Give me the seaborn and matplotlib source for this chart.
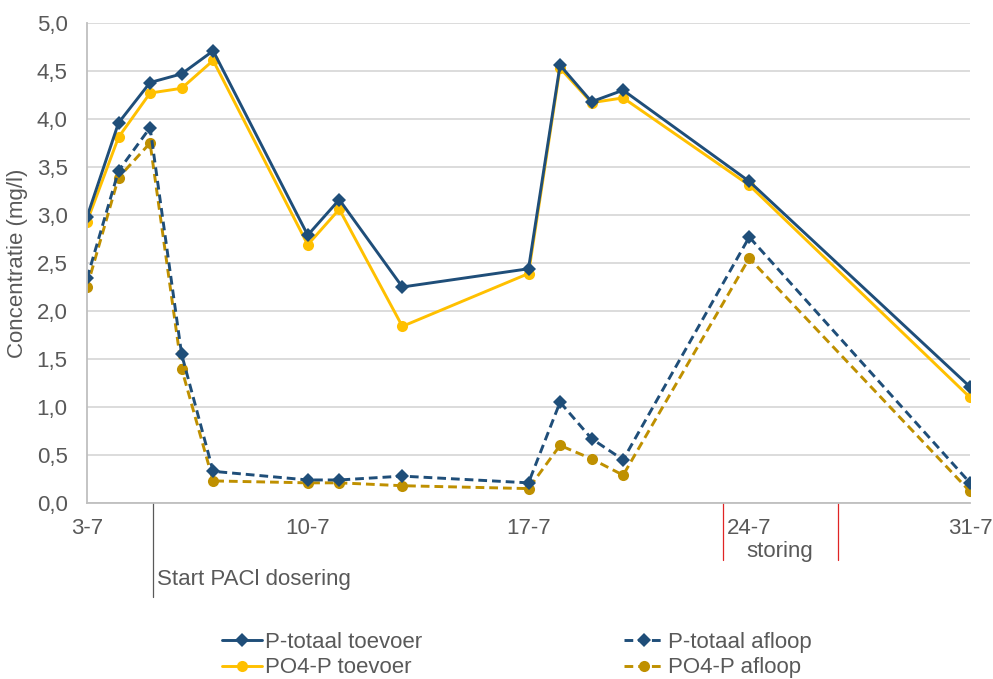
import numpy as np
import pandas as pd
import matplotlib
matplotlib.use("Agg")
import matplotlib.pyplot as plt
import matplotlib.transforms as mtransforms
import seaborn as sns

# dagen in juli
dagen = [3, 4, 5, 6, 7, 10, 11, 13, 17, 18, 19, 20, 24, 31]

ptot_toevoer = [2.98, 3.96, 4.38, 4.47, 4.71, 2.79, 3.16, 2.25, 2.44, 4.56, 4.18, 4.30, 3.35, 1.21]
po4_toevoer = [2.93, 3.81, 4.27, 4.32, 4.61, 2.69, 3.06, 1.84, 2.39, 4.53, 4.17, 4.22, 3.31, 1.10]
ptot_afloop = [2.34, 3.46, 3.91, 1.55, 0.33, 0.24, 0.24, 0.28, 0.21, 1.05, 0.67, 0.45, 2.77, 0.21]
po4_afloop = [2.25, 3.39, 3.75, 1.40, 0.23, 0.21, 0.21, 0.18, 0.15, 0.60, 0.46, 0.29, 2.55, 0.12]

tick_dagen = [3, 10, 17, 24, 31]
tick_labels = ["3-7", "10-7", "17-7", "24-7", "31-7"]

start_pacl = 5.1
storing_van, storing_tot = 23.16, 26.8

df = pd.DataFrame({
    "dag": dagen,
    "P-totaal toevoer": ptot_toevoer,
    "P-totaal afloop": ptot_afloop,
    "PO4-P toevoer": po4_toevoer,
    "PO4-P afloop": po4_afloop,
})

sns.set_style("white")
plt.rcParams["font.family"] = ["Liberation Sans", "DejaVu Sans"]
grijs = "#595959"
fs = 16

fig = plt.figure(figsize=(9.93, 6.79), dpi=100)
ax = fig.add_axes([87 / 993, 1 - 503 / 679, (970 - 87) / 993, 480 / 679])

blauw = "#1F4E79"
geel = "#FFC000"
goud = "#BF9000"

stijl = {
    "P-totaal toevoer": dict(color=blauw, marker="D", linestyle="-", markersize=7),
    "P-totaal afloop": dict(color=blauw, marker="D", linestyle=(0, (3.0, 1.7)), markersize=7),
    "PO4-P toevoer": dict(color=geel, marker="o", linestyle="-", markersize=8),
    "PO4-P afloop": dict(color=goud, marker="o", linestyle=(0, (3.0, 1.7)), markersize=8),
}
for naam in ["PO4-P afloop", "P-totaal afloop", "PO4-P toevoer", "P-totaal toevoer"]:
    s = stijl[naam]
    sns.lineplot(data=df, x="dag", y=naam, ax=ax, label=naam, linewidth=2.1,
                 markeredgewidth=0, **s)

ax.set_xlim(3, 31)
ax.set_ylim(0, 5)
ax.set_yticks(np.arange(0, 5.01, 0.5))
ax.set_yticklabels([f"{v:.1f}".replace(".", ",") for v in np.arange(0, 5.01, 0.5)])
ax.set_xticks(tick_dagen)
ax.set_xticklabels(tick_labels)
ax.set_xticks([3 + 1.4 * k for k in range(21) if k % 5 != 0], minor=True)
ax.tick_params(axis="x", which="both", direction="in", length=6, color="#BFBFBF",
               labelsize=fs, labelcolor=grijs, pad=11)
ax.tick_params(axis="y", length=0, labelsize=fs, labelcolor=grijs, pad=14)
ax.grid(axis="y", color="#D9D9D9", linewidth=1.3)
ax.set_axisbelow(True)
for kant in ["top", "right"]:
    ax.spines[kant].set_visible(False)
for kant in ["left", "bottom"]:
    ax.spines[kant].set_color("#BFBFBF")
    ax.spines[kant].set_linewidth(1.3)
ax.set_xlabel("")
ax.set_ylabel("Concentratie (mg/l)", fontsize=fs, color=grijs, labelpad=6)

trans = mtransforms.blended_transform_factory(ax.transData, ax.transAxes)
ax.plot([start_pacl, start_pacl], [0, -0.196], transform=trans, color=grijs,
        linewidth=0.9, clip_on=False)
ax.text(start_pacl + 0.12, -0.16, "Start PACl dosering", transform=trans,
        fontsize=fs, color=grijs, va="center", ha="left")
for d in [storing_van, storing_tot]:
    ax.plot([d, d], [0, -0.119], transform=trans, color="#E02424",
            linewidth=0.9, clip_on=False)
ax.text((storing_van + storing_tot) / 2, -0.1, "storing", transform=trans,
        fontsize=fs, color=grijs, va="center", ha="center")

handles, labels = ax.get_legend_handles_labels()
orde = ["P-totaal toevoer", "PO4-P toevoer", "P-totaal afloop", "PO4-P afloop"]
h = [handles[labels.index(n)] for n in orde]
ax.legend_.remove()
fig.legend(h, orde, loc="upper left", bbox_to_anchor=(222 / 993, 1 - 632 / 679),
           ncol=2, frameon=False, fontsize=fs, labelcolor=grijs,
           handlelength=1.8, handletextpad=0.14, columnspacing=9.1,
           labelspacing=0.2, borderpad=0, borderaxespad=0)

fig.savefig("out.png", dpi=100)
